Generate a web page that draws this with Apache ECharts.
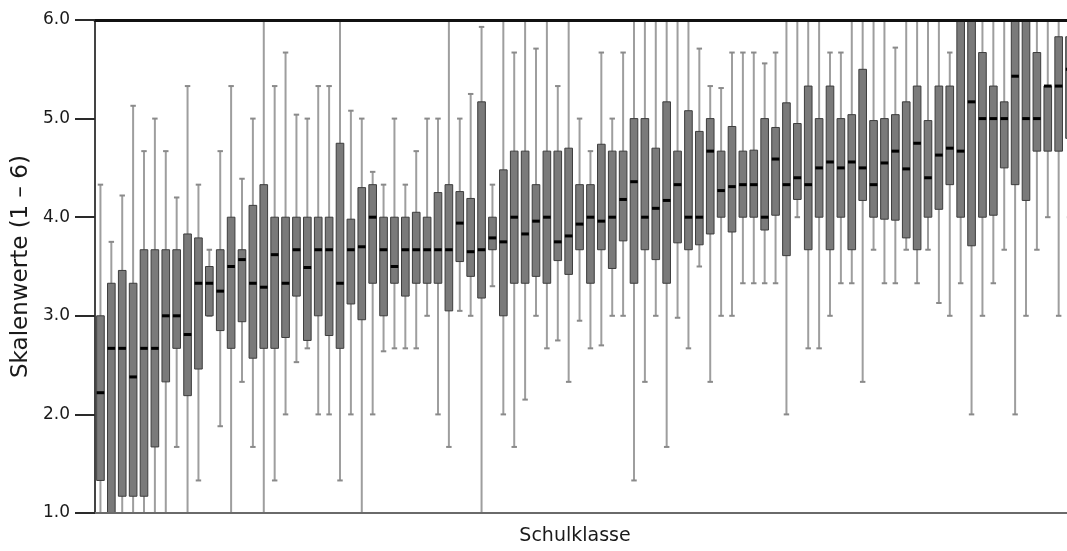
<!DOCTYPE html>
<html>
<head>
<meta charset="utf-8">
<script src="https://cdn.jsdelivr.net/npm/echarts@6/dist/echarts.min.js"></script>
<style>
  html, body { margin: 0; padding: 0; background: #ffffff; }
  #chart { width: 1067px; height: 551px; }
</style>
</head>
<body>
<div id="chart"></div>
<script>
// Categories: one box per school class (Schulklasse), labels not shown
const categories = [
  "1","2","3","4","5","6","7","8","9","10",
  "11","12","13","14","15","16","17","18","19","20",
  "21","22","23","24","25","26","27","28","29","30",
  "31","32","33","34","35","36","37","38","39","40",
  "41","42","43","44","45","46","47","48","49","50",
  "51","52","53","54","55","56","57","58","59","60",
  "61","62","63","64","65","66","67","68","69","70",
  "71","72","73","74","75","76","77","78","79","80",
  "81","82","83","84","85","86","87","88","89","90"
];

const lowerWhisker = [
  1.0, 1.0, 1.0, 1.0, 1.0, 1.0, 1.0, 1.67, 1.0, 1.33,
  3.0, 1.88, 1.0, 2.33, 1.67, 1.0, 1.33, 2.0, 2.53, 2.67,
  2.0, 2.0, 1.33, 2.0, 1.0, 2.0, 2.64, 2.67, 2.67, 2.67,
  3.0, 2.0, 1.67, 3.05, 3.0, 1.0, 3.3, 2.0, 1.67, 2.15,
  3.0, 2.67, 2.75, 2.33, 2.95, 2.67, 2.7, 3.0, 3.0, 1.33,
  2.33, 3.0, 1.67, 2.98, 2.67, 3.5, 2.33, 3.0, 3.0, 3.33,
  3.33, 3.33, 3.33, 2.0, 4.0, 2.67, 2.67, 3.0, 3.33, 3.33,
  2.33, 3.67, 3.33, 3.33, 3.67, 3.33, 3.67, 3.13, 3.0, 3.33,
  2.0, 3.0, 3.33, 3.67, 2.0, 3.0, 3.67, 4.0, 3.0, 4.0
];

const q1 = [
  1.33, 1.0, 1.17, 1.17, 1.17, 1.67, 2.33, 2.67, 2.19, 2.46,
  3.0, 2.85, 2.67, 2.94, 2.57, 2.67, 2.67, 2.78, 3.2, 2.75,
  3.0, 2.8, 2.67, 3.12, 2.96, 3.33, 3.0, 3.33, 3.2, 3.33,
  3.33, 3.33, 3.05, 3.55, 3.4, 3.18, 3.67, 3.0, 3.33, 3.33,
  3.4, 3.33, 3.56, 3.42, 3.67, 3.33, 3.67, 3.48, 3.76, 3.33,
  3.67, 3.57, 3.33, 3.74, 3.67, 3.72, 3.83, 4.0, 3.85, 4.0,
  4.0, 3.87, 4.02, 3.61, 4.18, 3.67, 4.0, 3.67, 4.0, 3.67,
  4.17, 4.0, 3.98, 3.97, 3.79, 3.67, 4.0, 4.08, 4.33, 4.0,
  3.71, 4.0, 4.02, 4.5, 4.33, 4.17, 4.67, 4.67, 4.67, 4.8
];

const median = [
  2.22, 2.67, 2.67, 2.38, 2.67, 2.67, 3.0, 3.0, 2.81, 3.33,
  3.33, 3.25, 3.5, 3.57, 3.33, 3.29, 3.62, 3.33, 3.67, 3.49,
  3.67, 3.67, 3.33, 3.67, 3.7, 4.0, 3.67, 3.5, 3.67, 3.67,
  3.67, 3.67, 3.67, 3.94, 3.65, 3.67, 3.79, 3.75, 4.0, 3.83,
  3.96, 4.0, 3.75, 3.81, 3.93, 4.0, 3.96, 4.0, 4.18, 4.36,
  4.0, 4.09, 4.17, 4.33, 4.0, 4.0, 4.67, 4.27, 4.31, 4.33,
  4.33, 4.0, 4.59, 4.33, 4.4, 4.33, 4.5, 4.56, 4.5, 4.56,
  4.5, 4.33, 4.55, 4.67, 4.49, 4.75, 4.4, 4.63, 4.7, 4.67,
  5.17, 5.0, 5.0, 5.0, 5.43, 5.0, 5.0, 5.33, 5.33, 5.5
];

const q3 = [
  3.0, 3.33, 3.46, 3.33, 3.67, 3.67, 3.67, 3.67, 3.83, 3.79,
  3.5, 3.67, 4.0, 3.67, 4.12, 4.33, 4.0, 4.0, 4.0, 4.0,
  4.0, 4.0, 4.75, 3.98, 4.3, 4.33, 4.0, 4.0, 4.0, 4.05,
  4.0, 4.25, 4.33, 4.26, 4.19, 5.17, 4.0, 4.48, 4.67, 4.67,
  4.33, 4.67, 4.67, 4.7, 4.33, 4.33, 4.74, 4.67, 4.67, 5.0,
  5.0, 4.7, 5.17, 4.67, 5.08, 4.87, 5.0, 4.67, 4.92, 4.67,
  4.68, 5.0, 4.91, 5.16, 4.95, 5.33, 5.0, 5.33, 5.0, 5.04,
  5.5, 4.98, 5.0, 5.04, 5.17, 5.33, 4.98, 5.33, 5.33, 6.0,
  6.0, 5.67, 5.33, 5.17, 6.0, 6.0, 5.67, 5.33, 5.83, 5.83
];

const upperWhisker = [
  4.33, 3.75, 4.22, 5.13, 4.67, 5.0, 4.67, 4.2, 5.33, 4.33,
  3.67, 4.67, 5.33, 4.39, 5.0, 6.0, 5.33, 5.67, 5.04, 5.0,
  5.33, 5.33, 6.0, 5.08, 5.0, 4.46, 4.33, 5.0, 4.33, 4.67,
  5.0, 5.0, 6.0, 5.0, 5.25, 5.93, 4.33, 6.0, 5.67, 6.0,
  5.71, 6.0, 5.33, 6.0, 5.0, 4.67, 5.67, 5.0, 5.67, 6.0,
  6.0, 6.0, 6.0, 6.0, 6.0, 5.71, 5.33, 5.31, 5.67, 5.67,
  5.67, 5.56, 5.67, 6.0, 6.0, 6.0, 6.0, 5.67, 5.67, 6.0,
  6.0, 6.0, 6.0, 5.72, 6.0, 6.0, 6.0, 6.0, 5.67, 6.0,
  6.0, 6.0, 6.0, 6.0, 6.0, 6.0, 6.0, 6.0, 6.0, 6.0
];

const yTickLabels = ["1.0", "2.0", "3.0", "4.0", "5.0", "6.0"];
const yTickValues = [1, 2, 3, 4, 5, 6];

const xTitle = "Schulklasse";
const yTitle = "Skalenwerte (1 – 6)";

const rows = categories.map((c, i) => [i, lowerWhisker[i], q1[i], median[i], q3[i], upperWhisker[i]]);

const FONT = "DejaVu Sans";

function renderBox(params, api) {
  const idx = api.value(0);
  const pMin = api.coord([idx, api.value(1)]);
  const pQ1 = api.coord([idx, api.value(2)]);
  const pMed = api.coord([idx, api.value(3)]);
  const pQ3 = api.coord([idx, api.value(4)]);
  const pMax = api.coord([idx, api.value(5)]);
  const band = api.size([1, 0])[0];
  const bw = band * 0.7;
  const cw = band * 0.5;
  const cx = pMed[0];
  const whiskerStyle = { stroke: '#9e9e9e', lineWidth: 2 };
  const capStyle = { stroke: '#8a8a8a', lineWidth: 2 };
  return {
    type: 'group',
    children: [
      { type: 'line', shape: { x1: cx, y1: pMin[1], x2: cx, y2: pMax[1] }, style: whiskerStyle },
      { type: 'line', shape: { x1: cx - cw / 2, y1: pMin[1], x2: cx + cw / 2, y2: pMin[1] }, style: capStyle },
      { type: 'line', shape: { x1: cx - cw / 2, y1: pMax[1], x2: cx + cw / 2, y2: pMax[1] }, style: capStyle },
      { type: 'rect', shape: { x: cx - bw / 2, y: pQ3[1], width: bw, height: pQ1[1] - pQ3[1] },
        style: { fill: '#7a7a7a', stroke: '#3d3d3d', lineWidth: 1 } },
      { type: 'line', shape: { x1: cx - bw / 2, y1: pMed[1], x2: cx + bw / 2, y2: pMed[1] },
        style: { stroke: '#000000', lineWidth: 3 } }
    ]
  };
}

const chart = echarts.init(document.getElementById('chart'), null, { renderer: 'canvas' });
chart.setOption({
  animation: false,
  backgroundColor: '#ffffff',
  grid: { left: 95, top: 20, width: 980, height: 493, outerBoundsMode: 'none', containLabel: false },
  xAxis: [
    {
      type: 'category',
      data: categories,
      boundaryGap: true,
      position: 'bottom',
      z: 10,
      axisLine: { show: true, lineStyle: { color: '#6a6a6a', width: 2 } },
      axisTick: { show: false },
      axisLabel: { show: false },
      splitLine: { show: false },
      name: xTitle,
      nameLocation: 'middle',
      nameGap: 14,
      nameTextStyle: { fontFamily: FONT, fontSize: 19, color: '#1a1a1a', verticalAlign: 'top', padding: [0, 20, 0, 0] }
    },
    {
      type: 'category',
      data: categories,
      boundaryGap: true,
      position: 'top',
      z: 10,
      axisLine: { show: true, lineStyle: { color: '#111111', width: 3 } },
      axisTick: { show: false },
      axisLabel: { show: false },
      splitLine: { show: false }
    }
  ],
  yAxis: {
    type: 'value',
    min: 1,
    max: 6,
    interval: 1,
    z: 10,
    axisLine: { show: true, lineStyle: { color: '#444444', width: 2 } },
    axisTick: { show: true, inside: false, length: 20, lineStyle: { color: '#2a2a2a', width: 2 } },
    axisLabel: {
      margin: 25,
      fontFamily: FONT,
      fontSize: 17,
      color: '#1a1a1a',
      formatter: function (v) {
        const k = yTickValues.indexOf(v);
        return k >= 0 ? yTickLabels[k] : '';
      }
    },
    splitLine: { show: false },
    name: yTitle,
    nameLocation: 'middle',
    nameRotate: 90,
    nameGap: 62,
    nameTextStyle: { fontFamily: FONT, fontSize: 23, color: '#1a1a1a' }
  },
  series: [
    {
      type: 'custom',
      name: 'Boxplot',
      xAxisIndex: 0,
      yAxisIndex: 0,
      renderItem: renderBox,
      encode: { x: 0, y: [1, 2, 3, 4, 5] },
      data: rows,
      z: 2
    }
  ]
});
</script>
</body>
</html>
